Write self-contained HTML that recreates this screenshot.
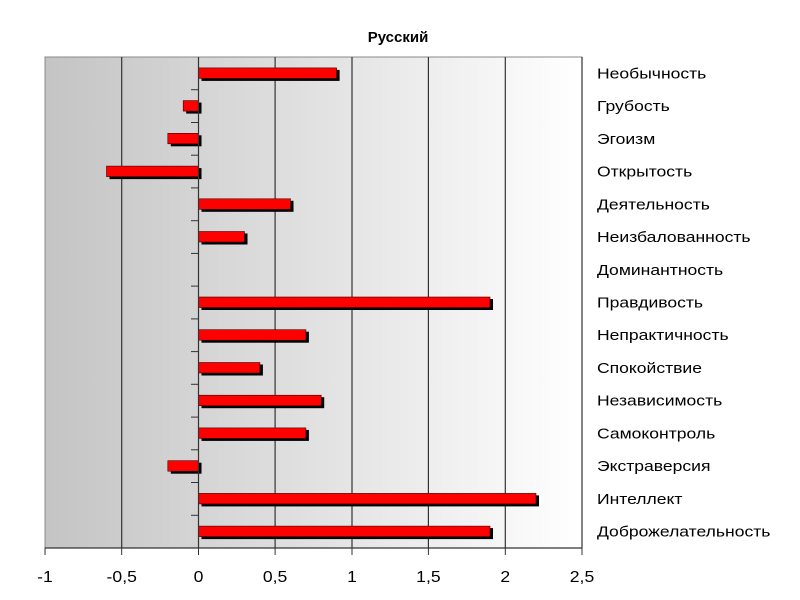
<!DOCTYPE html>
<html><head><meta charset="utf-8"><style>body{margin:0;background:#fff}svg{display:block}</style></head><body>
<svg width="800" height="600" xmlns="http://www.w3.org/2000/svg" font-family="Liberation Sans, sans-serif">
<defs>
<linearGradient id="bg" x1="0" x2="1" y1="0" y2="0">
<stop offset="0" stop-color="#c4c4c4"/><stop offset="0.45" stop-color="#dedede"/><stop offset="1" stop-color="#ffffff"/>
</linearGradient>
</defs>
<text x="398" y="42" font-size="15" font-weight="bold" text-anchor="middle">Русский</text>
<rect x="45" y="57" width="537" height="491" fill="url(#bg)" stroke="#888" stroke-width="1"/>
<g stroke="#333" stroke-width="1.2">
<line x1="121.7" y1="57" x2="121.7" y2="548"/>
<line x1="275.1" y1="57" x2="275.1" y2="548"/>
<line x1="352" y1="57" x2="352" y2="548"/>
<line x1="428.4" y1="57" x2="428.4" y2="548"/>
<line x1="505.3" y1="57" x2="505.3" y2="548"/>
<line x1="582" y1="57" x2="582" y2="548"/>
<line x1="45" y1="548" x2="582" y2="548"/>
</g>
<g transform="translate(0,1.5)">
<g fill="#000">
<rect x="201.5" y="68.4" width="138.1" height="11"/>
<rect x="186.2" y="101.1" width="15.3" height="11"/>
<rect x="170.8" y="133.8" width="30.7" height="11"/>
<rect x="109.5" y="166.6" width="92" height="11"/>
<rect x="201.5" y="199.3" width="92" height="11"/>
<rect x="201.5" y="232" width="46" height="11"/>
<rect x="201.5" y="297.5" width="291.5" height="11"/>
<rect x="201.5" y="330.2" width="107.4" height="11"/>
<rect x="201.5" y="363" width="61.4" height="11"/>
<rect x="201.5" y="395.7" width="122.7" height="11"/>
<rect x="201.5" y="428.4" width="107.4" height="11"/>
<rect x="170.8" y="461.2" width="30.7" height="11"/>
<rect x="201.5" y="493.9" width="337.5" height="11"/>
<rect x="201.5" y="526.6" width="291.5" height="11"/>
</g>
<g fill="#ff0000" stroke="#400" stroke-width="0.6">
<rect x="198.5" y="66.4" width="138.1" height="10.5"/>
<rect x="183.2" y="99.1" width="15.3" height="10.5"/>
<rect x="167.8" y="131.8" width="30.7" height="10.5"/>
<rect x="106.5" y="164.6" width="92" height="10.5"/>
<rect x="198.5" y="197.3" width="92" height="10.5"/>
<rect x="198.5" y="230" width="46" height="10.5"/>
<rect x="198.5" y="295.5" width="291.5" height="10.5"/>
<rect x="198.5" y="328.2" width="107.4" height="10.5"/>
<rect x="198.5" y="361" width="61.4" height="10.5"/>
<rect x="198.5" y="393.7" width="122.7" height="10.5"/>
<rect x="198.5" y="426.4" width="107.4" height="10.5"/>
<rect x="167.8" y="459.2" width="30.7" height="10.5"/>
<rect x="198.5" y="491.9" width="337.5" height="10.5"/>
<rect x="198.5" y="524.6" width="291.5" height="10.5"/>
</g>
</g>
<line x1="198.5" y1="57" x2="198.5" y2="548" stroke="#333" stroke-width="1.2"/>
<g stroke="#333" stroke-width="1">
<line x1="191" y1="89.7" x2="198.5" y2="89.7"/>
<line x1="191" y1="122.5" x2="198.5" y2="122.5"/>
<line x1="191" y1="155.2" x2="198.5" y2="155.2"/>
<line x1="191" y1="187.9" x2="198.5" y2="187.9"/>
<line x1="191" y1="220.7" x2="198.5" y2="220.7"/>
<line x1="191" y1="253.4" x2="198.5" y2="253.4"/>
<line x1="191" y1="286.1" x2="198.5" y2="286.1"/>
<line x1="191" y1="318.9" x2="198.5" y2="318.9"/>
<line x1="191" y1="351.6" x2="198.5" y2="351.6"/>
<line x1="191" y1="384.3" x2="198.5" y2="384.3"/>
<line x1="191" y1="417.1" x2="198.5" y2="417.1"/>
<line x1="191" y1="449.8" x2="198.5" y2="449.8"/>
<line x1="191" y1="482.5" x2="198.5" y2="482.5"/>
<line x1="191" y1="515.3" x2="198.5" y2="515.3"/>
<line x1="45" y1="548" x2="45" y2="555"/>
<line x1="121.7" y1="548" x2="121.7" y2="555"/>
<line x1="198.5" y1="548" x2="198.5" y2="555"/>
<line x1="275.1" y1="548" x2="275.1" y2="555"/>
<line x1="352" y1="548" x2="352" y2="555"/>
<line x1="428.4" y1="548" x2="428.4" y2="555"/>
<line x1="505.3" y1="548" x2="505.3" y2="555"/>
<line x1="582" y1="548" x2="582" y2="555"/>
</g>
<g font-size="15" fill="#000" transform="translate(597,0) scale(1.17,1) translate(-597,0)">
<text x="597" y="78.4">Необычность</text>
<text x="597" y="111.1">Грубость</text>
<text x="597" y="143.8">Эгоизм</text>
<text x="597" y="176.6">Открытость</text>
<text x="597" y="209.3">Деятельность</text>
<text x="597" y="242">Неизбалованность</text>
<text x="597" y="274.8">Доминантность</text>
<text x="597" y="307.5">Правдивость</text>
<text x="597" y="340.2">Непрактичность</text>
<text x="597" y="373">Спокойствие</text>
<text x="597" y="405.7">Независимость</text>
<text x="597" y="438.4">Самоконтроль</text>
<text x="597" y="471.2">Экстраверсия</text>
<text x="597" y="503.9">Интеллект</text>
<text x="597" y="536.6">Доброжелательность</text>
</g>
<g font-size="16" fill="#000" text-anchor="middle">
<text transform="translate(45,582) scale(1.1,1)">-1</text>
<text transform="translate(121.7,582) scale(1.1,1)">-0,5</text>
<text transform="translate(198.5,582) scale(1.1,1)">0</text>
<text transform="translate(275.1,582) scale(1.1,1)">0,5</text>
<text transform="translate(352,582) scale(1.1,1)">1</text>
<text transform="translate(428.4,582) scale(1.1,1)">1,5</text>
<text transform="translate(505.3,582) scale(1.1,1)">2</text>
<text transform="translate(582,582) scale(1.1,1)">2,5</text>
</g>
</svg>
</body></html>
